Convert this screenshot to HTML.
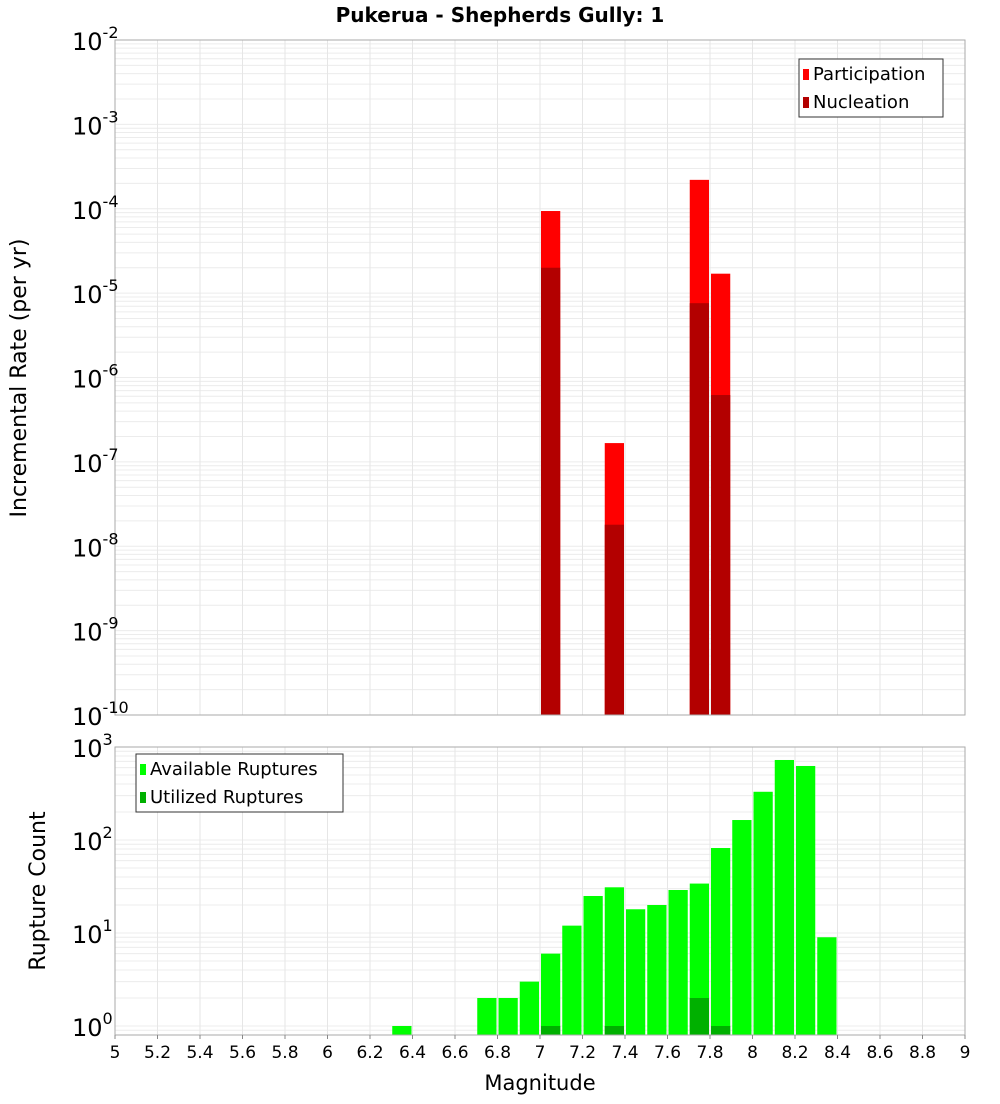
<!DOCTYPE html>
<html><head><meta charset="utf-8"><style>
body{margin:0;background:#fff;font-family:"DejaVu Sans","Liberation Sans",sans-serif}
</style></head><body>
<svg id="c" width="1000" height="1100" xmlns="http://www.w3.org/2000/svg" font-family="DejaVu Sans, Liberation Sans, sans-serif"></svg>
<script>
const mags=[6.35,6.75,6.85,6.95,7.05,7.15,7.25,7.35,7.45,7.55,7.65,7.75,7.85,7.95,8.05,8.15,8.25,8.35];
const available=[1,2,2,3,6,12,25,31,18,20,29,34,82,164,330,725,625,9];
const utilMags=[7.05,7.35,7.75,7.85];
const utilized=[1,1,2,1];
const rateMags=[7.05,7.35,7.75,7.85];
const participation=[9.4e-5,1.67e-7,2.2e-4,1.7e-5];
const nucleation=[2.0e-5,1.8e-8,7.6e-6,6.2e-7];
const xTicks=[5,5.2,5.4,5.6,5.8,6,6.2,6.4,6.6,6.8,7,7.2,7.4,7.6,7.8,8,8.2,8.4,8.6,8.8,9];
const topExp=[-10,-9,-8,-7,-6,-5,-4,-3,-2];
const botExp=[0,1,2,3];

const svg=document.getElementById('c');const NS='http://www.w3.org/2000/svg';
function el(t,a,p){const e=document.createElementNS(NS,t);for(const k in a)e.setAttribute(k,a[k]);(p||svg).appendChild(e);return e;}
const X0=115,X1=965;const x=v=>X0+(v-5)/4*(X1-X0);
const T0=40,T1=715;const yT=v=>T1-(Math.log10(v)+10)/8*(T1-T0);
const B0=747,B1=1035;const yB=v=>1026-Math.log10(v)*93;

function panel(top,bot,yf,minE,maxE,name){
  const g=el('g',{});
  for(let e=minE-1;e<=maxE;e++)for(let m=1;m<10;m++){const yy=yf(m*Math.pow(10,e));if(yy<top||yy>bot)continue;
    el('line',{x1:X0,x2:X1,y1:yy,y2:yy,stroke:'#ececec','stroke-width':1},g);}
  xTicks.forEach(t=>el('line',{x1:x(t),x2:x(t),y1:top,y2:bot,stroke:'#e6e6e6'},g));
}
panel(T0,T1,yT,-10,-2,'top');panel(B0,B1,yB,0,3,'bottom');

const bw=x(5.1)-x(5)-2;
function bars(ms,vals,yf,base,col,name){
  ms.forEach((m,i)=>{const yy=yf(vals[i]);const r=el('rect',{x:x(m)-bw/2,y:yy,width:bw,height:base-yy,fill:col});
    });
}
bars(rateMags,participation,yT,T1,'#ff0000','participation');
bars(rateMags,nucleation,yT,T1,'#b30000','nucleation');
bars(mags,available,yB,B1,'#00ff00','available');
bars(utilMags,utilized,yB,B1,'#00b000','utilized');

el('rect',{x:X0,y:T0,width:X1-X0,height:T1-T0,fill:'none',stroke:'#aaa'});
el('rect',{x:X0,y:B0,width:X1-X0,height:B1-B0,fill:'none',stroke:'#aaa'});

function txt(s,a,name){const t=el('text',a);t.textContent=s;return t;}
topExp.forEach(e=>{const yy=yT(Math.pow(10,e));const t=txt('10',{x:72,y:yy+10,'font-size':24,fill:'#000'},'y-tick-label');
  const s=el('tspan',{dy:-12,'font-size':16},t);s.textContent=String(e);});
botExp.forEach(e=>{const yy=yB(Math.pow(10,e));const t=txt('10',{x:72,y:yy+10,'font-size':24,fill:'#000'},'y2-tick-label');
  const s=el('tspan',{dy:-12,'font-size':16},t);s.textContent=String(e);});
xTicks.forEach(t=>{txt(String(t),{x:x(t),y:1058,'font-size':17,'text-anchor':'middle'},'x-tick-label');
  el('line',{x1:x(t),x2:x(t),y1:B1,y2:B1+4,stroke:'#888'});});

txt('Pukerua - Shepherds Gully: 1',{x:500,y:22,'font-size':20,'font-weight':'bold','text-anchor':'middle'},'chart-title');
txt('Magnitude',{x:540,y:1090,'font-size':21,'text-anchor':'middle'},'x-axis-title');
txt('Incremental Rate (per yr)',{x:26,y:378,'font-size':22,'text-anchor':'middle',transform:'rotate(-90 26 378)'},'y-axis-title');
txt('Rupture Count',{x:45,y:891,'font-size':22,'text-anchor':'middle',transform:'rotate(-90 45 891)'},'y2-axis-title');

function legend(lx,ly,w,items,name){
  const g=el('g',{});
  el('rect',{x:lx,y:ly,width:w,height:58,fill:'#fff',stroke:'#333'},g);
  items.forEach((it,i)=>{el('rect',{x:lx+4,y:ly+10+i*28,width:6,height:11,fill:it[1]},g);
    const t=el('text',{x:lx+14,y:ly+21+i*28,'font-size':18},g);t.textContent=it[0];});
}
legend(799,59,144,[['Participation','#ff0000'],['Nucleation','#b30000']],'legend-top');
legend(136,754,207,[['Available Ruptures','#00ff00'],['Utilized Ruptures','#00b000']],'legend-bottom');
</script>
</body></html>
